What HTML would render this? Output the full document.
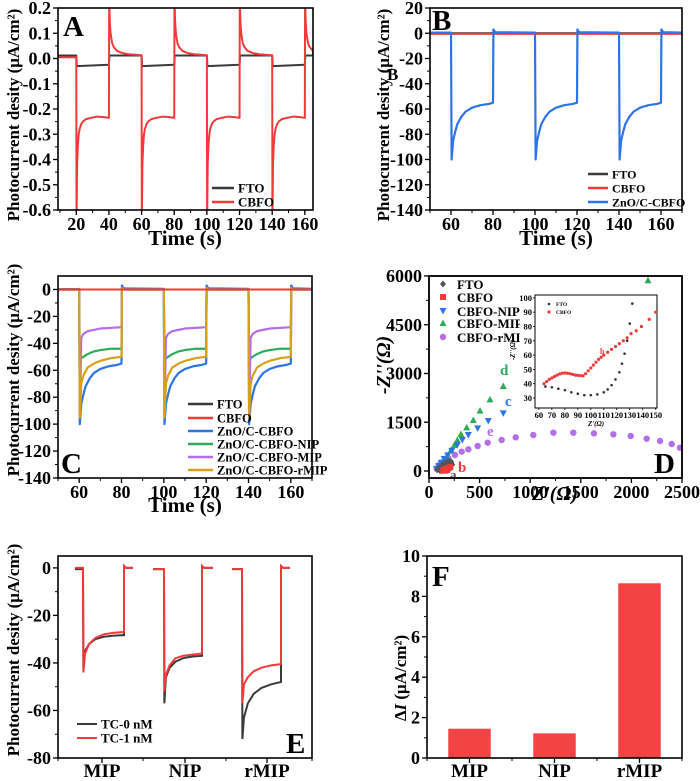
<!DOCTYPE html>
<html><head><meta charset="utf-8"><style>
html,body{margin:0;padding:0;background:#fff;}
svg{display:block;font-family:"Liberation Serif",serif;font-weight:bold;}
</style></head><body>
<svg id="fig" width="700" height="781" viewBox="0 0 700 781" xmlns="http://www.w3.org/2000/svg"></svg>
<script>
// ---------- DATA ----------
// Panel A
const aOn=[20,60,100,140], aOff=[40,80,120,160];
const aCbfoOnDt=[0,0.15,0.5,1,1.5,2,3,4,6,9,13,17,20];
const aCbfoOnV=[0.005,-0.65,-0.42,-0.34,-0.30,-0.28,-0.26,-0.25,-0.24,-0.235,-0.23,-0.232,-0.235];
const aCbfoOffDt=[0,0.15,0.5,1,2,3,5,8,12,16,20];
const aCbfoOffV=[-0.235,0.25,0.15,0.10,0.06,0.045,0.03,0.022,0.017,0.015,0.013];
const aFtoOnDt=[0,0.3,20], aFtoOnV=[0.012,-0.03,-0.025];
const aFtoOffDt=[0,0.3,20], aFtoOffV=[-0.025,0.012,0.012];
const aYTicks=[0.2,0.1,0.0,-0.1,-0.2,-0.3,-0.4,-0.5,-0.6];
const aYLabels=["0.2","0.1","0.0","-0.1","-0.2","-0.3","-0.4","-0.5","-0.6"];
const aXTicks=[20,40,60,80,100,120,140,160];
// Panel B / C
const bOn=[60,100,140], bOff=[80,120,160];
const znoOnDt=[0,0.3,1,2,3,5,7,10,14,18,20];
const znoOnV=[0.5,-100,-85,-78,-72,-66,-62,-59,-57,-56,-55];
const znoOffDt=[0,0.2,1,20], znoOffV=[-55,3,0.8,0.5];
const bYTicks=[20,0,-20,-40,-60,-80,-100,-120,-140];
const bXTicks=[60,80,100,120,140,160];
const cProfDt=[0,0.3,1,2,4,7,10,15,20];
const cNipV=[0,-53,-51,-50,-48,-46,-45,-44,-44];
const cMipV=[0,-95,-36,-33,-31,-30,-29,-28.5,-28];
const cRmipV=[0,-95,-70,-64,-58,-55,-53,-51,-50];
const cOffDt=[0,0.2,1,20];
const cYTicks=[0,-20,-40,-60,-80,-100,-120,-140];
// Panel D (Nyquist)
const dFtoX=[80,95,110,125,140,160,180,200,220,230,210,190,170,150,130,110,100];
const dFtoY=[40,80,120,160,200,240,280,300,280,200,120,80,40,20,10,5,60];
const dCbfoX=[140,155,170,185,200,210,180,160];
const dCbfoY=[20,40,60,80,100,120,30,10];
const dNipX=[75,95,120,150,185,225,280,329,389,481,586,734];
const dNipY=[60,150,250,370,480,620,800,954,1108,1313,1538,1774];
const dMipX=[86,109,141,175,217,250,280,316,372,438,504,603,734,2164];
const dMipY=[83,185,317,462,646,800,954,1138,1344,1569,1856,2205,2615,5870];
const dRmipX=[76,99,141,191,257,323,389,481,580,718,857,1031,1229,1426,1630,1822,1993,2151,2283,2398,2480];
const dRmipY=[83,185,287,390,492,595,667,769,872,954,1036,1108,1179,1179,1159,1129,1077,994,923,831,717];
const dYTicks=[0,1500,3000,4500,6000];
const dXTicks=[0,500,1000,1500,2000,2500];
const inFtoX=[65,70,75,80,85,90,95,100,105,110,113,116,119,122,124,126,128,130,132];
const inFtoY=[38,37.5,36.5,35.5,34,33,32,32,32.5,34,36,39,43,48,54,61,70,82,96];
const inCbfoX=[64,66,68,70,72,74,76,78,80,82,84,86,88,90,92,94,96,98,100,102,104,106,108,110,113,116,119,122,125,128,131,135,139,145,150];
const inCbfoY=[40,41.5,43,44,45,46,46.8,47.3,47.5,47.3,47,46.5,46,45.8,45.6,45.5,47,49,51,53,55,57,58.5,60,62,64,66,68,70,72,75,77,80,85,90];
// Panel E
const eCats=["MIP","NIP","rMIP"];
const eCatCenters=[22,63.5,104.5];
const eStart=[8.5,47.5,87], eOn=[12.5,53,92], eOff=[33,72,111.5], eEnd=[37.5,77.5,116];
const eDt=[0,0.2,1,3,6,10,15,20];
const eTc0=[[-0.5,-42,-35,-32,-30,-29,-28.5,-28.3],[-0.5,-57,-46,-42,-39.5,-38,-37.3,-37],[-0.5,-72,-63,-57,-53,-50.5,-49,-48]];
const eTc1=[[0,-44,-36,-32,-29.5,-28,-27.3,-27],[-0.5,-52,-45,-41,-38,-37,-36.5,-36],[-0.5,-57,-49,-46,-43.5,-42,-41,-40.5]];
const eYTicks=[0,-20,-40,-60,-80];
// Panel F
const fCats=["MIP","NIP","rMIP"];
const fVals=[1.45,1.22,8.65];
const fYTicks=[0,2,4,6,8,10];

// ---------- HELPERS ----------
const NS="http://www.w3.org/2000/svg";
const svg=document.getElementById('fig');
function el(tag,attrs,parent,text){const e=document.createElementNS(NS,tag);for(const k in attrs)e.setAttribute(k,attrs[k]);if(text!==undefined)e.textContent=text;(parent||svg).appendChild(e);return e;}
function scale(d0,d1,r0,r1){return v=>r0+(v-d0)*(r1-r0)/(d1-d0);}
function panel(name,x0,x1,y0,y1){
  const g=el('g',{},svg);
  
  
  const cid='clip-'+name;
  const cp=el('clipPath',{id:cid},g);el('rect',{x:x0,y:y0,width:x1-x0,height:y1-y0},cp);
  return {g,cid,x0,x1,y0,y1};
}
function frame(p){
  const r=el('rect',{x:p.x0,y:p.y0,width:p.x1-p.x0,height:p.y1-p.y0,fill:'none',stroke:'#000','stroke-width':1.6},p.g);
  
  
}
function yAxis(p,sy,ticks,labels,minor,fs){
  const g=el('g',{},p.g);
  
  
  ticks.forEach((t,i)=>{const y=sy(t);el('line',{x1:p.x0-5,x2:p.x0,y1:y,y2:y,stroke:'#000','stroke-width':1.3},g);
    const tx=el('text',{x:p.x0-7,y:y+6,'text-anchor':'end','font-size':fs||18},g,labels?labels[i]:String(t));
    
    });
  (minor||[]).forEach(t=>{const y=sy(t);el('line',{x1:p.x0-3,x2:p.x0,y1:y,y2:y,stroke:'#000','stroke-width':1},g);});
}
function xAxis(p,sx,ticks,labels,minor,fs,dy){
  const g=el('g',{},p.g);
  
  
  ticks.forEach((t,i)=>{const x=sx(t);el('line',{x1:x,x2:x,y1:p.y1,y2:p.y1+5,stroke:'#000','stroke-width':1.3},g);
    const tx=el('text',{x:x,y:p.y1+(dy||20),'text-anchor':'middle','font-size':fs||18},g,labels?labels[i]:String(t));
    
    });
  (minor||[]).forEach(t=>{const x=sx(t);el('line',{x1:x,x2:x,y1:p.y1,y2:p.y1+3,stroke:'#000','stroke-width':1},g);});
}
function rng(a,b,s){const r=[];for(let v=a;v<=b+1e-9;v+=s)r.push(+v.toFixed(6));return r;}
function text(p,x,y,str,fs,name,extra){const t=el('text',Object.assign({x:x,y:y,'font-size':fs},extra||{}),p.g,str);
  
  return t;}
function vtitle(p,x,y,str,fs,name){return text(p,0,0,str,fs,name,{transform:`translate(${x},${y}) rotate(-90)`,'text-anchor':'middle'});}
function steps(on,off,start,tStart,tEnd,onDt,onV,offDt,offV){
  const pts=[[tStart,start],[on[0],start]];
  on.forEach((t,i)=>{onDt.forEach((d,j)=>pts.push([t+d,onV[j]]));
    const te=i+1<on.length?on[i+1]:tEnd;
    offDt.forEach((d,j)=>{if(off[i]+d<=te)pts.push([off[i]+d,offV[j]]);});
    pts.push([te,offV[offV.length-1]]);});
  return pts;
}
function line(p,sx,sy,pts,color,w,name){
  const d=pts.map((q,i)=>(i?'L':'M')+sx(q[0]).toFixed(2)+','+sy(q[1]).toFixed(2)).join('');
  const l=el('path',{d:d,fill:'none',stroke:color,'stroke-width':w||2,'clip-path':`url(#${p.cid})`,'stroke-linejoin':'round'},p.g);
  
  return l;
}
function legLine(p,x1,x2,y,color,label,fs,w){
  const g=el('g',{},p.g);
  
  
  el('line',{x1:x1,x2:x2,y1:y,y2:y,stroke:color,'stroke-width':w||2.5},g);
  el('text',{x:x2+4,y:y+4.5,'font-size':fs},g,label);
}
const BLK='#3a3a3a',RED='#f03a3a',BLU='#2d74e6',GRN='#2faa5a',PUR='#b46ee8',ORG='#d6a11a';

// ---------- PANEL A ----------
{const p=panel('panel-a',58,313,8,210);
 const sx=scale(8.8,165,58,313), sy=scale(0.2,-0.6,8,210);
 line(p,sx,sy,steps(aOn,aOff,0.012,8.8,165,aFtoOnDt,aFtoOnV,aFtoOffDt,aFtoOffV),BLK,2,'series-fto');
 line(p,sx,sy,steps(aOn,aOff,0.005,8.8,165,aCbfoOnDt,aCbfoOnV,aCbfoOffDt,aCbfoOffV),RED,2,'series-cbfo');
 frame(p);
 yAxis(p,sy,aYTicks,aYLabels,rng(-0.55,0.15,0.1));
 xAxis(p,sx,aXTicks,null,rng(10,160,10));
 text(p,185,245,'Time (s)',21,'x-axis-title',{'text-anchor':'middle'});
 vtitle(p,19,115,'Photocurrent desity (μA/cm²)',17,'y-axis-title');
 text(p,63,36,'A',29,'panel-label');
 legLine(p,212,234,188,BLK,'FTO',13);
 legLine(p,212,234,202,RED,'CBFO',13);}

// ---------- PANEL B ----------
{const p=panel('panel-b',430,682,8,210);
 const sx=scale(50,170,430,682), sy=scale(20,-140,8,210);
 line(p,sx,sy,[[50,0],[170,0]],BLK,2,'series-fto');
 line(p,sx,sy,[[50,-0.5],[170,-0.5]],RED,2,'series-cbfo');
 line(p,sx,sy,steps(bOn,bOff,0.5,50,170,znoOnDt,znoOnV,znoOffDt,znoOffV),BLU,2.2,'series-zno-c-cbfo');
 frame(p);
 yAxis(p,sy,bYTicks,null,rng(-130,10,20));
 xAxis(p,sx,bXTicks,null,rng(50,170,10));
 text(p,556,245,'Time (s)',21,'x-axis-title',{'text-anchor':'middle'});
 vtitle(p,389,115,'Photocurrent desity (μA/cm²)',17,'y-axis-title');
 text(p,432,30,'B',29,'panel-label');
 text(p,387,80,'B',17,'stray-label');
 legLine(p,588,608,174,BLK,'FTO',12);
 legLine(p,588,608,188,RED,'CBFO',12);
 legLine(p,588,608,202,BLU,'ZnO/C-CBFO',12);}

// ---------- PANEL C ----------
{const p=panel('panel-c',58,312,276,478);
 const sx=scale(50,170,58,312), sy=scale(10,-140,276,478);
 line(p,sx,sy,[[50,0],[170,0]],BLK,2,'series-fto');
 line(p,sx,sy,steps(bOn,bOff,0.3,50,170,znoOnDt,znoOnV,znoOffDt,znoOffV),BLU,2.2,'series-zno-c-cbfo');
 line(p,sx,sy,steps(bOn,bOff,0,50,170,cProfDt,cNipV,cOffDt,[-44,1,0,0]),GRN,2.2,'series-nip');
 line(p,sx,sy,steps(bOn,bOff,0,50,170,cProfDt,cMipV,cOffDt,[-28,1,0,0]),PUR,2.2,'series-mip');
 line(p,sx,sy,steps(bOn,bOff,0,50,170,cProfDt,cRmipV,cOffDt,[-50,1,0,0]),ORG,2.2,'series-rmip');
 line(p,sx,sy,[[50,0],[170,0]],RED,2,'series-cbfo');
 frame(p);
 yAxis(p,sy,cYTicks,null,rng(-130,-10,20));
 xAxis(p,sx,bXTicks,null,rng(50,170,10));
 text(p,185,512,'Time (s)',21,'x-axis-title',{'text-anchor':'middle'});
 vtitle(p,19,370,'Photocurrent desity (μA/cm²)',17,'y-axis-title');
 text(p,61,473,'C',29,'panel-label');
 const ly=[404,418,431,444,457,470],lc=[BLK,RED,BLU,GRN,PUR,ORG],
  ll=['FTO','CBFO','ZnO/C-CBFO','ZnO/C-CBFO-NIP','ZnO/C-CBFO-MIP','ZnO/C-CBFO-rMIP'];
 ly.forEach((y,i)=>legLine(p,188,213,y,lc[i],ll[i],12.5));}

// ---------- PANEL D ----------
{const p=panel('panel-d',429,682,276,478);
 const sx=scale(0,2500,429,682), sy=scale(0,6000,471,276);
 function mark(g,shape,cx,cy,color){
   if(shape==='c')return el('circle',{cx:cx,cy:cy,r:3.2,fill:color},g);
   if(shape==='s')return el('rect',{x:cx-3,y:cy-3,width:6,height:6,fill:color},g);
   if(shape==='u')return el('polygon',{points:`${cx-3.5},${cy+3} ${cx+3.5},${cy+3} ${cx},${cy-3.5}`,fill:color},g);
   if(shape==='d')return el('polygon',{points:`${cx-3.5},${cy-3} ${cx+3.5},${cy-3} ${cx},${cy+3.5}`,fill:color},g);
   return el('polygon',{points:`${cx},${cy-3.5} ${cx+3},${cy} ${cx},${cy+3.5} ${cx-3},${cy}`,fill:color},g);}
 function pts(xs,ys,shape,color,name){const g=el('g',{'clip-path':`url(#${p.cid})`},p.g);
  
  
  xs.forEach((x,i)=>{const m=mark(g,shape,sx(x),sy(ys[i]),color);
   
   });}
 pts(dRmipX,dRmipY,'c',PUR,'series-cbfo-rmip');
 pts(dMipX,dMipY,'u',GRN,'series-cbfo-mip');
 pts(dNipX,dNipY,'d',BLU,'series-cbfo-nip');
 pts(dFtoX,dFtoY,'m','#555','series-fto');
 pts(dCbfoX,dCbfoY,'s',RED,'series-cbfo');
 frame(p);
 yAxis(p,sy,dYTicks,null,[750,2250,3750,5250]);
 xAxis(p,sx,dXTicks,null,[250,750,1250,1750,2250]);
 text(p,555,500,"Z'(Ω)",20,'x-axis-title',{'text-anchor':'middle','font-style':'italic'});
 vtitle(p,390,365,"-Z''(Ω)",20,'y-axis-title').setAttribute('font-style','italic');
 text(p,654,473,'D',29,'panel-label');
 text(p,500,375,'d',15,'label-d',{fill:GRN});
 text(p,505,406,'c',15,'label-c',{fill:BLU});
 text(p,487,436,'e',15,'label-e',{fill:PUR});
 text(p,458,472,'b',15,'label-b',{fill:RED});
 text(p,450,479,'a',13,'label-a',{fill:'#555'});
 const lx=443, ly=[284,297,311,323,337], lab=['FTO','CBFO','CBFO-NIP','CBFO-MIP','CBFO-rMIP'], sh=['m','s','d','u','c'], col=['#555',RED,BLU,GRN,PUR];
 ly.forEach((y,i)=>{const g=el('g',{},p.g);
  
  
  mark(g,sh[i],lx,y,col[i]);
  el('text',{x:457,y:y+5,'font-size':13},g,lab[i]);});
 // inset
 const ig=el('g',{},p.g);
 
 
 const ix=scale(57,151,535,657), iy=scale(23,102,408,295);
 el('rect',{x:520,y:290,width:140,height:138,fill:'#fff'},ig);
 el('rect',{x:535,y:295,width:122,height:113,fill:'#fff',stroke:'#000','stroke-width':1},ig);
 inFtoX.forEach((x,i)=>{const c=el('circle',{cx:ix(x),cy:iy(inFtoY[i]),r:1.3,fill:'#333'},ig);
  
  });
 inCbfoX.forEach((x,i)=>{const c=el('circle',{cx:ix(x),cy:iy(inCbfoY[i]),r:1.6,fill:RED},ig);
  
  });
 rng(60,150,10).forEach(t=>{el('line',{x1:ix(t),x2:ix(t),y1:408,y2:410,stroke:'#000','stroke-width':0.8},ig);
  el('text',{x:ix(t),y:418,'text-anchor':'middle','font-size':8.5},ig,String(t));});
 rng(30,100,10).forEach(t=>{el('line',{x1:533,x2:535,y1:iy(t),y2:iy(t),stroke:'#000','stroke-width':0.8},ig);
  el('text',{x:532,y:iy(t)+3,'text-anchor':'end','font-size':8.5},ig,String(t));});
 el('text',{x:596,y:426,'text-anchor':'middle','font-size':7,'font-style':'italic'},ig,"Z'(Ω)");
 el('text',{transform:'translate(515,350) rotate(-90)','text-anchor':'middle','font-size':7,'font-style':'italic'},ig,"-Z''(Ω)");
 el('circle',{cx:549,cy:304,r:1.3,fill:'#333'},ig);el('text',{x:556,y:306,'font-size':5.5},ig,'FTO');
 el('circle',{cx:549,cy:312,r:1.6,fill:RED},ig);el('text',{x:556,y:314,'font-size':5.5},ig,'CBFO');
 el('text',{x:600,y:354,'font-size':8,fill:RED},ig,'b');
 // redraw frame edges possibly covered by inset background
 frame(p);}

// ---------- PANEL E ----------
{const p=panel('panel-e',58,312,556,758);
 const sx=scale(0,127,58,312), sy=scale(5,-80,556,758);
 function seg(series,dark0,color,name){
  const pts=[];
  eCats.forEach((c,i)=>{const k=(eOff[i]-eOn[i])/20;
   if(i>0)pts.push([NaN,NaN]);
   pts.push([eStart[i],dark0[i]],[eOn[i],dark0[i]]);
   eDt.forEach((d,j)=>pts.push([eOn[i]+d*k,series[i][j]]));
   pts.push([eOff[i],0.8],[eOff[i]+1,0],[eEnd[i],0]);});
  let d='',mv=true;
  pts.forEach(q=>{if(isNaN(q[0])){mv=true;return;}d+=(mv?'M':'L')+sx(q[0]).toFixed(2)+','+sy(q[1]).toFixed(2);mv=false;});
  const l=el('path',{d:d,fill:'none',stroke:color,'stroke-width':2},p.g);
  
  }
 seg(eTc0,[-0.5,-0.5,-0.5],BLK,'series-tc-0nm');
 seg(eTc1,[0,-0.5,-0.5],RED,'series-tc-1nm');
 frame(p);
 yAxis(p,sy,eYTicks,null,[-10,-30,-50,-70]);
 xAxis(p,sx,eCatCenters,eCats,[0,42.5,84,127],19,19);
 vtitle(p,19,650,'Photocurrent desity (μA/cm²)',17,'y-axis-title');
 text(p,286,753,'E',29,'panel-label');
 legLine(p,77,97,724,BLK,'TC-0 nM',13,2);
 legLine(p,77,97,738,RED,'TC-1 nM',13,2);}

// ---------- PANEL F ----------
{const p=panel('panel-f',427,682,556,758);
 const sy=scale(0,10,758,556);
 const bw=0.5, sx=scale(-0.5,2.5,427,682);
 fVals.forEach((v,i)=>{const r=el('rect',{x:sx(i-bw/2),y:sy(v),width:sx(bw)-sx(0),height:sy(0)-sy(v),fill:'#f24444'},p.g);
  
  });
 frame(p);
 yAxis(p,sy,fYTicks,null,[1,3,5,7,9]);
 xAxis(p,sx,[0,1,2],fCats,[-0.5,0.5,1.5,2.5],19,19);
 const t=vtitle(p,406,678,'',17,'y-axis-title');
 el('tspan',{},t,'Δ');el('tspan',{'font-style':'italic'},t,'I');el('tspan',{},t,' (μA/cm²)');
 text(p,432,586,'F',29,'panel-label');}
</script>
</body></html>
